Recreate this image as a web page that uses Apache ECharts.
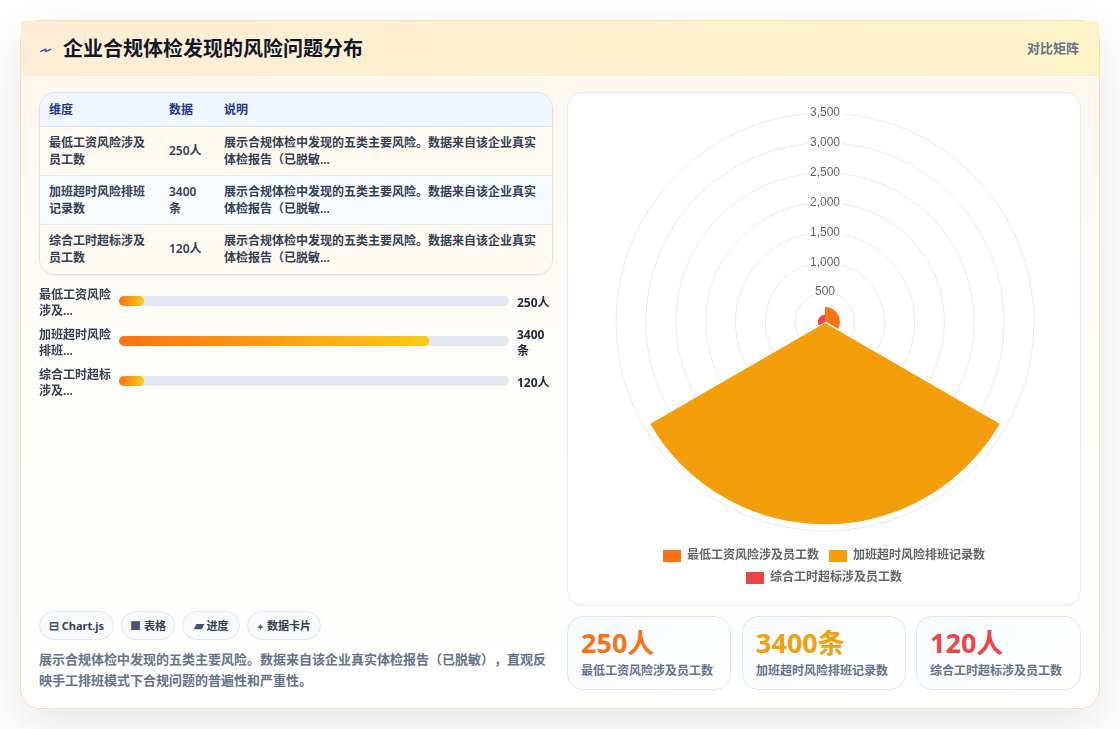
<!DOCTYPE html>
<html lang="zh-CN">
<head>
<meta charset="utf-8">
<title>企业合规体检发现的风险问题分布</title>
<script src="https://cdn.jsdelivr.net/npm/echarts@6/dist/echarts.min.js"></script>
<style>
  * { box-sizing: border-box; margin: 0; padding: 0; }
  html, body { width: 1120px; height: 729px; overflow: hidden; background: #fff; }
  body { font-family: "Noto Sans", "Noto Sans CJK SC", sans-serif; position: relative; text-spacing-trim: space-all; }
  .card {
    position: absolute; left: 20px; top: 20px; width: 1080px; height: 689px;
    border: 1px solid #fcdcb4; border-radius: 20px; overflow: visible;
    background: linear-gradient(180deg, #fff6ec 0%, #fffdf9 45%, #ffffff 100%);
    box-shadow: 0 18px 45px rgba(15, 23, 42, .1);
  }
  .head {
    position: absolute; left: 0; top: 0; width: 1078px; height: 55px;
    border-bottom: 1px solid #f1ece4; border-radius: 3px 3px 0 0;
    background: linear-gradient(90deg, #ffedd5 0%, #fef3c7 100%);
  }
  .bolt { position: absolute; left: 19px; top: 17px; font: 400 18px/24px "DejaVu Sans"; color: #3b4fa8; transform: scale(-1.25, .85); }
  .head h1 { position: absolute; left: 42px; top: 14px; font-size: 20px; line-height: 28px; font-weight: 700; color: #0f172a; }
  .head span.tag { position: absolute; right: 20px; top: 18px; font-size: 13px; line-height: 18px; font-weight: 600; color: #64748b; }
  .tbl-wrap {
    position: absolute; left: 39px; top: 92px; width: 514px; height: 183px;
    border: 1px solid #dbe3ee; border-radius: 16px; overflow: hidden;
    box-shadow: 0 1px 2px rgba(15, 23, 42, .08);
  }
  table { border-collapse: collapse; width: 100%; table-layout: fixed; font-size: 12px; line-height: 17px; font-weight: 600; color: #334155; }
  th { height: 33px; background: #eff6ff; color: #1e3a8a; text-align: left; padding: 0 9px; font-weight: 700; border-bottom: 1px solid #dbe3ee; }
  td { height: 49px; padding: 0 9px; vertical-align: middle; border-bottom: 1px solid #e8edf3; }
  tr:last-child td { border-bottom: none; }
  tbody tr:nth-child(odd) { background: #fff9f1; }
  tbody tr:nth-child(even) { background: #f8fbff; }
  #progress { position: absolute; left: 39px; top: 281px; width: 514px; height: 124px; }
  .pills { position: absolute; left: 39px; top: 611px; height: 29px; }
  .pill {
    position: absolute; top: 0; height: 29px; border: 1px solid #e2e8f0; border-radius: 15px; background: #f8fafc;
    font-size: 11px; line-height: 27px; font-weight: 700; color: #334155; text-align: center; white-space: nowrap;
  }
  .pill em { font-style: normal; color: #475569; display: inline-block; line-height: 1; }
  .desc { position: absolute; left: 39px; top: 649px; width: 514px; font-size: 13px; line-height: 20.5px; font-weight: 600; color: #64748b; }
  .polar-card { position: absolute; left: 567px; top: 92px; width: 514px; height: 514px; border: 1px solid #e3ebf6; border-radius: 16px; background: #fff; }
  #polar { position: absolute; left: 0; top: 0; width: 512px; height: 512px; }
  .stat {
    position: absolute; top: 616px; height: 74px; border: 1px solid #dbe7f6; border-radius: 16px;
    background: linear-gradient(135deg, #f8fbff 0%, #ffffff 100%);
  }
  .stat b { position: absolute; left: 13px; top: 8px; font-size: 27px; line-height: 36px; font-weight: 700; white-space: nowrap; }
  .stat i { position: absolute; left: 13px; top: 45px; font-style: normal; font-size: 12px; line-height: 18px; font-weight: 600; color: #64748b; white-space: nowrap; }
</style>
</head>
<body>
<div class="card">
  <div class="head">
    <span class="bolt">⌁</span>
    <h1 id="title"></h1>
    <span class="tag" id="tag"></span>
  </div>
</div>
<div class="tbl-wrap"><table id="tbl"></table></div>
<div id="progress"></div>
<div class="pills" id="pills"></div>
<div class="desc" id="desc"></div>
<div class="polar-card"><div id="polar"></div></div>
<div id="stats"></div>

<script>
const titleText = '企业合规体检发现的风险问题分布';
const matrixTag = '对比矩阵';
const categories = ['最低工资风险涉及员工数', '加班超时风险排班记录数', '综合工时超标涉及员工数'];
const shortLabels = ['最低工资风险\n涉及...', '加班超时风险\n排班...', '综合工时超标\n涉及...'];
const values = [250, 3400, 120];
const units = ['人', '条', '人'];
const colors = ['#f97316', '#f59e0b', '#ef4444'];
const sectorEdges = [0, 1.5, 0];
const tableHeads = ['维度', '数据', '说明'];
const rowNote = '展示合规体检中发现的五类主要风险。数据来自该企业真实体检报告（已脱敏...';
const pillIcons = ['⊟', '■', '▰', '✦'];
const pillIconSizes = [12, 11, 13, 8];
const pillTexts = ['Chart.js', '表格', '进度', '数据卡片'];
const pillLefts = [0, 82, 143, 208];
const pillWidths = [75, 54, 58, 74];
const description = '展示合规体检中发现的五类主要风险。数据来自该企业真实体检报告（已脱敏），直观反映手工排班模式下合规问题的普遍性和严重性。';
const statLefts = [567, 742, 916];
const statWidths = [164, 164, 165];
const radiusMax = 3500;
const radiusStep = 500;
const progressAxisMax = 4275;

const valueTexts = values.map((v, i) => v + units[i]);

document.getElementById('title').textContent = titleText;
document.getElementById('tag').textContent = matrixTag;
document.getElementById('desc').textContent = description;

// Summary table
document.getElementById('tbl').innerHTML =
  '<colgroup><col style="width:120px"><col style="width:55px"><col></colgroup>' +
  '<thead><tr>' + tableHeads.map(h => '<th>' + h + '</th>').join('') + '</tr></thead><tbody>' +
  categories.map((c, i) => '<tr><td>' + c + '</td><td>' + valueTexts[i] + '</td><td>' + rowNote + '</td></tr>').join('') +
  '</tbody>';

// Tool pills
document.getElementById('pills').innerHTML = pillTexts.map((t, i) =>
  '<span class="pill" style="left:' + pillLefts[i] + 'px;width:' + pillWidths[i] + 'px">' +
  '<em style="font-size:' + pillIconSizes[i] + 'px">' + pillIcons[i] + '</em> ' + t + '</span>').join('');

// Stat cards
document.getElementById('stats').innerHTML = categories.map((c, i) =>
  '<div class="stat" style="left:' + statLefts[i] + 'px;width:' + statWidths[i] + 'px">' +
  '<b style="color:' + colors[i] + '">' + valueTexts[i] + '</b><i>' + c + '</i></div>').join('');

// Horizontal progress bars; the row captions live on a second grid set slightly lower
const progressChart = echarts.init(document.getElementById('progress'), null, { renderer: 'canvas' });
const rowText = { fontSize: 12, lineHeight: 16, fontWeight: 600, fontFamily: '"Noto Sans", "Noto Sans CJK SC", sans-serif' };
progressChart.setOption({
  animation: false,
  grid: [
    { left: 80, top: 0, width: 390, height: 120, outerBoundsMode: 'none' },
    { left: 80, top: 2.5, width: 390, height: 120, outerBoundsMode: 'none' }
  ],
  xAxis: [
    { gridIndex: 0, type: 'value', min: 0, max: progressAxisMax, show: false },
    { gridIndex: 1, type: 'value', min: 0, max: progressAxisMax, show: false }
  ],
  yAxis: [
    { gridIndex: 0, type: 'category', inverse: true, data: categories, show: false },
    {
      gridIndex: 1, type: 'category', inverse: true, data: shortLabels,
      axisLine: { show: false }, axisTick: { show: false },
      axisLabel: Object.assign({ align: 'left', margin: 80, color: '#334155' }, rowText)
    },
    {
      gridIndex: 1, type: 'category', inverse: true, position: 'right', data: valueTexts.map(t => t.replace('3400', '3400\n')),
      axisLine: { show: false }, axisTick: { show: false },
      axisLabel: Object.assign({ align: 'left', margin: 8, color: '#1e293b' }, rowText, { fontWeight: 700 })
    }
  ],
  series: [{
    type: 'bar', xAxisIndex: 0, yAxisIndex: 0, data: values, barWidth: 10, barMinHeight: 25,
    showBackground: true,
    backgroundStyle: { color: '#e2e8f0', borderRadius: 5 },
    itemStyle: {
      borderRadius: 5,
      color: new echarts.graphic.LinearGradient(0, 0, 1, 0, [
        { offset: 0, color: '#f97316' }, { offset: 1, color: '#facc15' }
      ])
    }
  }]
});

// Polar area chart: one 120 degree sector per category
const polarChart = echarts.init(document.getElementById('polar'), null, { renderer: 'canvas' });
const tickFont = '"Liberation Sans", "Noto Sans CJK SC", sans-serif';
const legendBase = {
  left: 'center', itemWidth: 18, itemHeight: 12, itemGap: 10, icon: 'rect',
  itemStyle: { borderWidth: 0 },
  textStyle: { color: '#666', fontSize: 12, fontWeight: 600, fontFamily: tickFont, padding: [0, 0, 0, 1] }
};
polarChart.setOption({
  animation: false,
  polar: { center: [257, 229], radius: 209 },
  angleAxis: {
    type: 'category', data: categories, startAngle: 90, clockwise: true,
    axisLine: { show: false }, axisTick: { show: false }, axisLabel: { show: false }, splitLine: { show: false }
  },
  radiusAxis: {
    type: 'value', min: 0, max: radiusMax, interval: radiusStep,
    axisLine: { show: false }, axisTick: { show: false },
    splitLine: { show: true, lineStyle: { color: '#e9e9e9', width: 1 } },
    axisLabel: {
      align: 'center', verticalAlign: 'middle', margin: 0, color: '#666', fontSize: 12, fontFamily: tickFont,
      backgroundColor: '#fff', padding: [1, 2],
      formatter: v => v === 0 ? '' : v.toLocaleString('en-US')
    }
  },
  legend: [
    Object.assign({ top: 452, data: categories.slice(0, 2) }, legendBase),
    Object.assign({ top: 474, data: categories.slice(2) }, legendBase)
  ],
  series: categories.map((name, i) => ({
    type: 'bar', coordinateSystem: 'polar', name, stack: 'risk', clip: false,
    data: values.map((v, j) => j === i ? v : null),
    barCategoryGap: '0%',
    itemStyle: { color: colors[i], borderColor: '#fff', borderWidth: sectorEdges[i] }
  }))
});
</script>
</body>
</html>
